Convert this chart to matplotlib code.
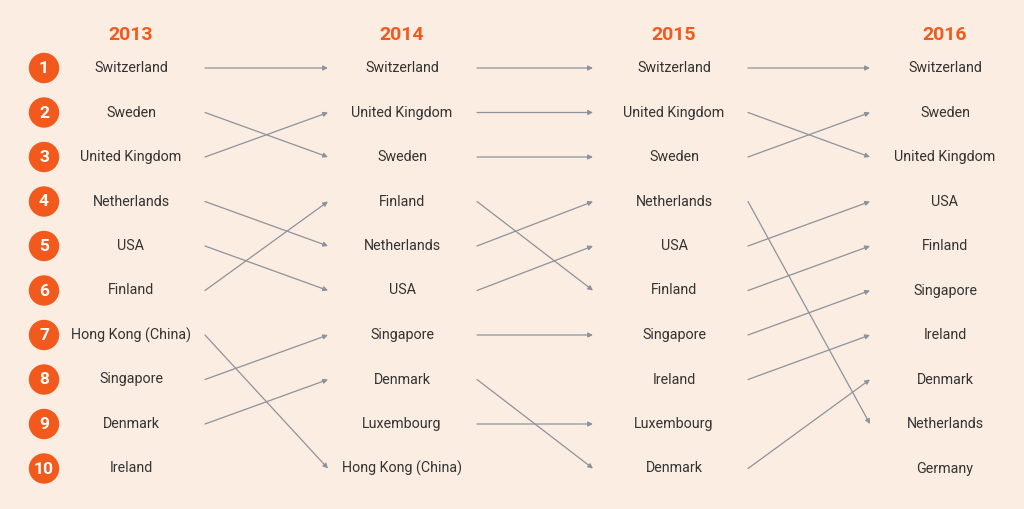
import matplotlib
matplotlib.use("Agg")
import matplotlib.pyplot as plt
from matplotlib import font_manager

years = ["2013", "2014", "2015", "2016"]
rank_2013 = ["Switzerland", "Sweden", "United Kingdom", "Netherlands", "USA", "Finland",
             "Hong Kong (China)", "Singapore", "Denmark", "Ireland"]
rank_2014 = ["Switzerland", "United Kingdom", "Sweden", "Finland", "Netherlands", "USA",
             "Singapore", "Denmark", "Luxembourg", "Hong Kong (China)"]
rank_2015 = ["Switzerland", "United Kingdom", "Sweden", "Netherlands", "USA", "Finland",
             "Singapore", "Ireland", "Luxembourg", "Denmark"]
rank_2016 = ["Switzerland", "Sweden", "United Kingdom", "USA", "Finland", "Singapore",
             "Ireland", "Denmark", "Netherlands", "Germany"]
rankings = [rank_2013, rank_2014, rank_2015, rank_2016]

names = {f.name for f in font_manager.fontManager.ttflist}
fam = "Liberation Sans Narrow" if "Liberation Sans Narrow" in names else "Roboto"

BG = "#fcede2"
ORANGE = "#f15a1c"
GRAY = "#8c939c"

fig = plt.figure(figsize=(10.24, 5.09), dpi=100, facecolor=BG)
ax = fig.add_axes([0, 0, 1, 1])
ax.set_xlim(0, 1024)
ax.set_ylim(509, 0)
ax.axis("off")
ax.set_facecolor(BG)

col_x = [131, 402, 674, 945]
arrow_start = [205, 477, 748]
arrow_end = [328, 593, 870]
row_y0, row_dy = 68, 44.5
def ry(i):
    return row_y0 + i * row_dy

for c, yr in enumerate(years):
    ax.text(col_x[c], 35, yr, ha="center", va="center", color=ORANGE,
            fontsize=14, fontweight="bold", family=fam)
    for i, name in enumerate(rankings[c]):
        ax.text(col_x[c], ry(i), name, ha="center", va="center", color="#333333",
                fontsize=10.3, family=fam)

for i in range(10):
    ax.add_patch(plt.Circle((44, ry(i)), 14.5, color=ORANGE))
    ax.text(44, ry(i) + 0.5, str(i + 1), ha="center", va="center", color="white",
            fontsize=12.5, fontweight="bold", family=fam)

for c in range(3):
    x0, x1 = arrow_start[c], arrow_end[c]
    for i, name in enumerate(rankings[c]):
        if name in rankings[c + 1]:
            j = rankings[c + 1].index(name)
            ax.annotate("", xy=(x1, ry(j)), xytext=(x0, ry(i)),
                        arrowprops=dict(arrowstyle="-|>", color=GRAY, lw=0.9,
                                        mutation_scale=7, shrinkA=0, shrinkB=0))

fig.savefig("out.png", dpi=100, facecolor=BG)
